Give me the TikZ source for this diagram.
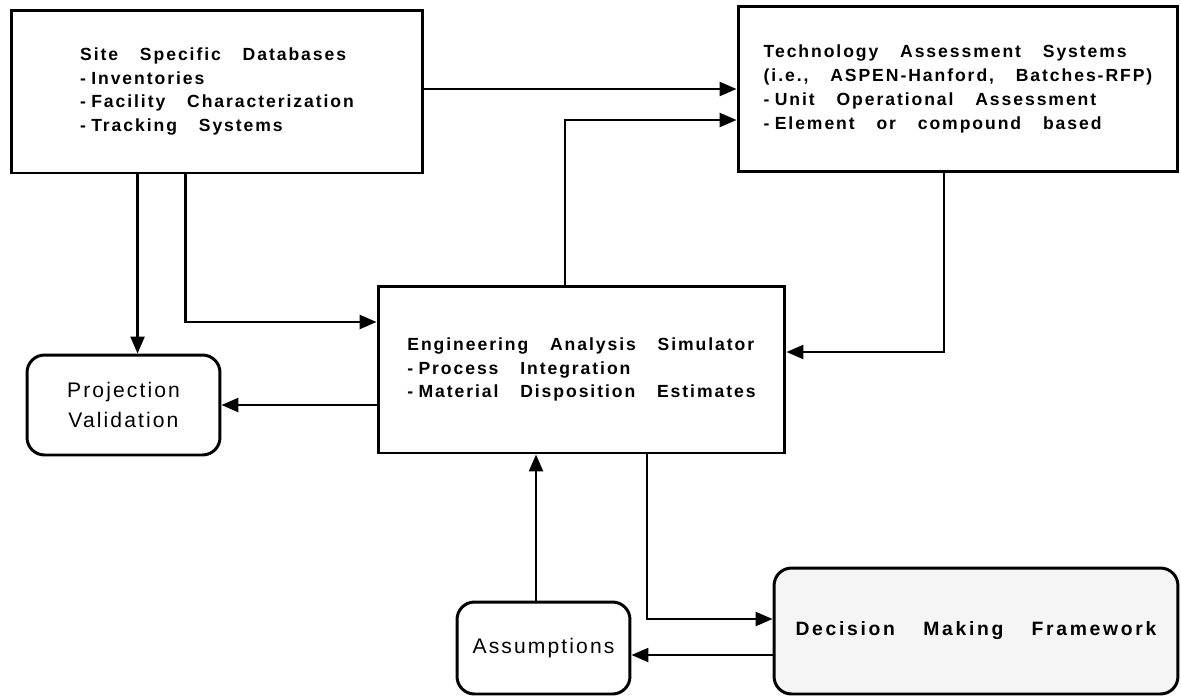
\documentclass[tikz,border=0pt]{standalone}
\usepackage{fontspec}
\setmainfont{Liberation Sans}
\newfontfamily\trackedsans{Liberation Sans}[LetterSpace=11,WordSpace=3.2]
\newfontfamily\widesans{Liberation Sans}[LetterSpace=14,WordSpace=3.5]
\newfontfamily\lightsans{Liberation Sans}[LetterSpace=10]
\newcommand{\itemdash}{-\kern3pt}
\usepackage{tikz}
\usetikzlibrary{positioning,calc,arrows.meta}

\begin{document}
\begin{tikzpicture}[x=0.02cm,y=-0.02cm,
    panel/.style={draw,line width=1.7pt,align=left,inner sep=0pt,
                 font=\trackedsans\bfseries\fontsize{10}{13.6}\selectfont},
    roundpanel/.style={draw,line width=1.7pt,rounded corners=0.35cm,align=center,inner sep=0pt,
                 font=\lightsans\fontsize{12}{17}\selectfont},
    flow/.style={line width=1.4pt,-{Triangle[length=0.34cm,width=0.28cm]}}
  ]
  \useasboundingbox (0,0) rectangle (1181,698);

  % boxes
  \node[panel,minimum width=8.24cm,minimum height=3.26cm] (site) at (217,91.5)
    {Site Specific Databases\\\itemdash Inventories\\\itemdash Facility Characterization\\\itemdash Tracking Systems};
  \node[panel,minimum width=8.8cm,minimum height=3.31cm] (tech) at (958,89)
    {Technology Assessment Systems\\(i.e., ASPEN-Hanford, Batches-RFP)\\\itemdash Unit Operational Assessment\\\itemdash Element or compound based};
  \node[panel,minimum width=8.14cm,minimum height=3.34cm] (engine) at (581.5,369.5)
    {Engineering Analysis Simulator\\\itemdash Process Integration\\\itemdash Material Disposition Estimates};
  \node[roundpanel,minimum width=3.86cm,minimum height=2cm] (proj) at (123.5,405)
    {Projection\\Validation};
  \node[roundpanel,minimum width=3.46cm,minimum height=1.84cm] (assume) at (543.5,648)
    {Assumptions};
  \node[roundpanel,minimum width=8.08cm,minimum height=2.52cm,fill=black!4,
        font=\widesans\bfseries\fontsize{11}{13}\selectfont] (decide) at (976,631)
    {Decision Making Framework};

  % connectors
  \draw[flow] (tech.west -| site.east) -- (tech.west);
  \coordinate (up) at ($(engine.north)+(-16.5,0)$);
  \draw[flow] (up) |- ($(tech.west)+(0,31)$);
  \coordinate (down1) at ($(site.south west)+(128,0)$);
  \draw[flow] (down1) -- (down1 |- proj.north);
  \coordinate (down2) at ($(site.south west)+(176,0)$);
  \draw[flow] (down2) |- ($(engine.west)+(0,-47.5)$);
  \coordinate (back) at ($(tech.south)+(-14,0)$);
  \draw[flow] (back) |- ($(engine.east)+(0,-17.5)$);
  \draw[flow] (engine.west |- proj.east) -- (proj.east);
  \coordinate (rise) at ($(assume.north)+(-7.5,0)$);
  \draw[flow] (rise) -- (rise |- engine.south);
  \coordinate (out) at ($(engine.south)+(65.5,0)$);
  \draw[flow] (out) |- ($(decide.west)+(0,-12)$);
  \coordinate (ret) at ($(decide.west)+(0,24)$);
  \draw[flow] (ret) -- (ret -| assume.east);
\end{tikzpicture}
\end{document}
